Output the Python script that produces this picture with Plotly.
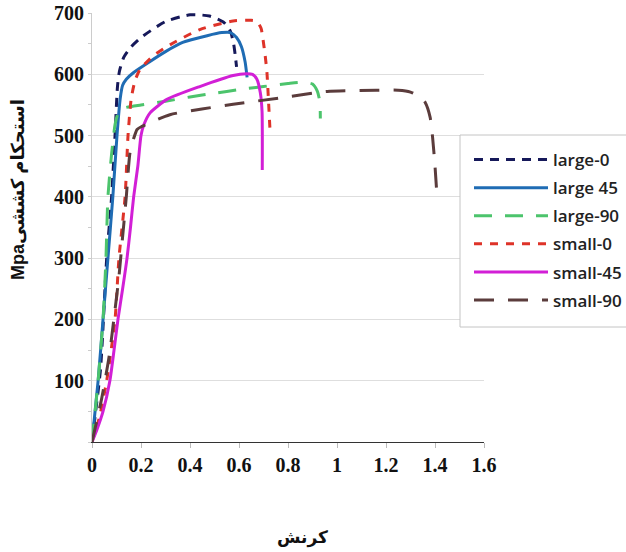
import plotly.graph_objects as go

# ---- data ----
large0_x = [0, 0.015, 0.035, 0.06, 0.08, 0.094, 0.104, 0.112, 0.13, 0.16, 0.2, 0.3, 0.4, 0.48, 0.54, 0.565, 0.578, 0.585, 0.59]
large0_y = [0, 50, 120, 300, 400, 500, 580, 605, 628, 645, 660, 686, 697, 695, 684, 670, 650, 630, 612]

large45_x = [0, 0.025, 0.045, 0.065, 0.085, 0.102, 0.115, 0.125, 0.14, 0.17, 0.237, 0.3, 0.37, 0.47, 0.53, 0.565, 0.59, 0.61, 0.625, 0.633]
large45_y = [0, 100, 200, 300, 400, 500, 560, 582, 592, 603, 621, 637, 652, 663, 668, 668, 660, 645, 620, 595]

large90_x = [0, 0.025, 0.045, 0.057, 0.065, 0.08, 0.095, 0.11, 0.13, 0.2, 0.3, 0.4, 0.5, 0.6, 0.7, 0.8, 0.86, 0.9, 0.92, 0.93, 0.932]
large90_y = [0, 100, 200, 300, 400, 470, 520, 540, 545, 550, 556, 563, 569, 575, 580, 585, 587, 584, 572, 555, 528]

small0_x = [0, 0.03, 0.06, 0.094, 0.11, 0.135, 0.147, 0.16, 0.176, 0.196, 0.25, 0.318, 0.44, 0.576, 0.65, 0.673, 0.69, 0.698, 0.707, 0.714, 0.72, 0.727]
small0_y = [0, 40, 100, 200, 300, 400, 500, 560, 590, 608, 630, 648, 673, 687, 688, 686, 675, 657, 630, 603, 560, 505]

small45_x = [0, 0.02, 0.045, 0.073, 0.09, 0.106, 0.125, 0.143, 0.157, 0.17, 0.187, 0.2, 0.212, 0.237, 0.306, 0.44, 0.576, 0.63, 0.655, 0.673, 0.687, 0.694, 0.695]
small45_y = [0, 20, 50, 100, 150, 200, 250, 300, 350, 400, 450, 500, 518, 537, 559, 580, 598, 601, 600, 592, 570, 540, 444]

small90_x = [0, 0.04, 0.07, 0.094, 0.11, 0.122, 0.14, 0.155, 0.17, 0.184, 0.204, 0.318, 0.576, 0.78, 0.96, 1.16, 1.25, 1.3, 1.34, 1.36, 1.38, 1.39, 1.40, 1.408]
small90_y = [0, 72, 140, 216, 270, 322, 400, 472, 495, 510, 515, 534, 551, 562, 572, 574, 574, 571, 563, 554, 530, 498, 450, 402]

series_names = ["large-0", "large 45", "large-90", "small-0", "small-45", "small-90"]
x_tickvals = [0, 0.2, 0.4, 0.6, 0.8, 1, 1.2, 1.4, 1.6]
x_ticktext = ["0", "0.2", "0.4", "0.6", "0.8", "1", "1.2", "1.4", "1.6"]
y_tickvals = [100, 200, 300, 400, 500, 600, 700]
x_title = "کرنش"
y_title = "استحکام کششیMpa"

# ---- styles ----
styles = [
    dict(color="#16195a", width=3, dash="9px,7px"),
    dict(color="#1f6cb4", width=3, dash="solid"),
    dict(color="#4cc46c", width=3, dash="18px,13px"),
    dict(color="#de3329", width=3, dash="8px,8px"),
    dict(color="#d21fd6", width=3, dash="solid"),
    dict(color="#5b3c3c", width=3, dash="20px,14px"),
]
xs = [large0_x, large45_x, large90_x, small0_x, small45_x, small90_x]
ys = [large0_y, large45_y, large90_y, small0_y, small45_y, small90_y]

fig = go.Figure()
for name, x, y, st in zip(series_names, xs, ys, styles):
    fig.add_trace(go.Scatter(x=x, y=y, mode="lines", name=name, legendgroup=name,
                             line=dict(shape="spline", smoothing=0.6, **st)))

tick_font = dict(family="Liberation Serif", size=20, color="#111111", weight="bold")

L, R, T, B = 92, 142, 13, 110
W, H = 626, 552
pw, ph = W - L - R, H - T - B

def px_x(p):
    return (p - L) / pw

def px_y(p):
    return (H - B - p) / ph

fig.update_layout(
    width=W, height=H,
    margin=dict(l=L, r=R, t=T, b=B, autoexpand=False),
    paper_bgcolor="white", plot_bgcolor="white",
    showlegend=True,
    legend=dict(
        x=px_x(469), xanchor="left", y=px_y(142), yanchor="top",
        bgcolor="rgba(0,0,0,0)", borderwidth=0,
        font=dict(family="Open Sans", size=17, color="#222222", weight=600),
        itemwidth=74, tracegroupgap=3,
    ),
    shapes=[
        dict(type="rect", xref="paper", yref="paper", layer="above",
             x0=px_x(460), x1=px_x(640), y0=px_y(327), y1=px_y(135),
             fillcolor="white", line=dict(color="#c4c4c4", width=1)),
    ],
    xaxis=dict(
        range=[0, 1.6], tickvals=x_tickvals, ticktext=x_ticktext,
        showgrid=False, zeroline=False, automargin=False,
        showline=True, linecolor="#333333", linewidth=1.2,
        ticks="outside", ticklen=5, tickcolor="#bbbbbb",
        tickfont=tick_font,
    ),
    yaxis=dict(
        range=[0, 700], tickvals=y_tickvals, automargin=False,
        showgrid=True, gridcolor="#dedede", gridwidth=1,
        zeroline=False,
        showline=True, linecolor="#cccccc", linewidth=1,
        ticks="outside", ticklen=3, tickcolor="#cccccc",
        minor=dict(dtick=50, tick0=0, ticks="outside", ticklen=3, tickcolor="#cccccc", showgrid=False),
        tickfont=tick_font,
    ),
    annotations=[
        dict(text=x_title, xref="paper", yref="paper", x=px_x(302), y=px_y(537),
             showarrow=False, font=dict(family="DejaVu Sans", size=17, color="#111111", weight="bold"),
             xanchor="center", yanchor="middle"),
        dict(text="\u202b" + y_title + "\u202c", xref="paper", yref="paper", x=px_x(18), y=px_y(190),
             showarrow=False, textangle=-90,
             font=dict(family="Liberation Sans, DejaVu Sans", size=18, color="#111111", weight="bold"),
             xanchor="center", yanchor="middle"),
    ],
)

fig.write_html("out.html", config={"displayModeBar": False},
               post_script="document.body.style.margin='0';")
